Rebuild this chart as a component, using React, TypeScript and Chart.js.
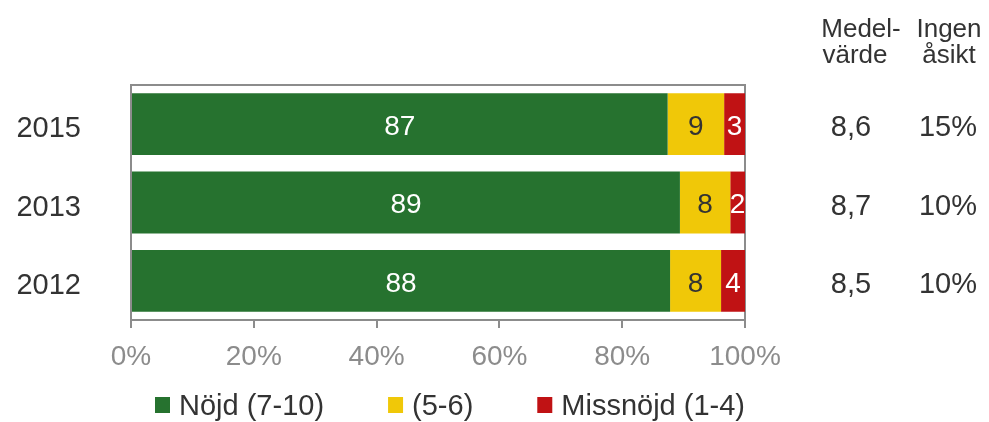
import React, { useEffect, useRef } from "react";
import { Chart, registerables } from "chart.js";

Chart.register(...registerables);

const years = ["2015", "2013", "2012"];
const seriesLabels = ["Nöjd (7-10)", "(5-6)", "Missnöjd (1-4)"];
const satisfied = [87.4, 89.4, 87.8];
const neutral = [9.2, 8.2, 8.3];
const dissatisfied = [3.4, 2.4, 3.9];
const meanValues = ["8,6", "8,7", "8,5"];
const noOpinion = ["15%", "10%", "10%"];
const xTicks = [0, 20, 40, 60, 80, 100];
const headerMean = ["Medel-", "värde"];
const headerNoOpinion = ["Ingen", "åsikt"];

const COLORS = ["#26722F", "#F0C808", "#C01214"];
const LABEL_COLORS = ["#FFFFFF", "#333333", "#FFFFFF"];
const FONT = "'Liberation Sans', Arial, sans-serif";
const TEXT = "#333333";
const AXIS = "#8C8C8C";

export default function App() {
  const ref = useRef<HTMLCanvasElement | null>(null);

  useEffect(() => {
    if (!ref.current) return;

    const framePlugin = {
      id: "frame",
      beforeDatasetsDraw(chart: any) {
        const { ctx, chartArea: a } = chart;
        ctx.save();
        ctx.strokeStyle = AXIS;
        ctx.lineWidth = 2;
        ctx.beginPath();
        ctx.moveTo(a.left, a.bottom);
        ctx.lineTo(a.left, a.top);
        ctx.lineTo(a.right, a.top);
        ctx.lineTo(a.right, a.bottom);
        ctx.stroke();
        ctx.restore();
      },
    };

    const valueLabels = {
      id: "valueLabels",
      afterDatasetsDraw(chart: any) {
        const { ctx } = chart;
        ctx.save();
        ctx.font = `28px ${FONT}`;
        ctx.textAlign = "center";
        ctx.textBaseline = "middle";
        chart.data.datasets.forEach((ds: any, di: number) => {
          const meta = chart.getDatasetMeta(di);
          meta.data.forEach((el: any, i: number) => {
            const v = ds.data[i];
            const cx = (el.x + el.base) / 2;
            ctx.fillStyle = LABEL_COLORS[di];
            ctx.fillText(String(Math.round(v)), cx, el.y + 3);
          });
        });
        ctx.restore();
      },
    };

    const sideColumns = {
      id: "sideColumns",
      afterDraw(chart: any) {
        const { ctx } = chart;
        const ys = chart.scales.y;
        ctx.save();
        ctx.fillStyle = TEXT;
        ctx.textAlign = "center";
        ctx.textBaseline = "alphabetic";
        ctx.font = `26px ${FONT}`;
        ctx.fillText(headerMean[0], 861, 37);
        ctx.fillText(headerMean[1], 855, 63);
        ctx.fillText(headerNoOpinion[0], 949, 37);
        ctx.fillText(headerNoOpinion[1], 949, 63);
        ctx.font = `29px ${FONT}`;
        ctx.textBaseline = "middle";
        years.forEach((_, i) => {
          const y = ys.getPixelForValue(i) + 4;
          ctx.fillText(meanValues[i], 851, y);
          ctx.fillText(noOpinion[i], 948, y);
        });
        ctx.restore();
      },
    };

    const customLegend = {
      id: "customLegend",
      afterDraw(chart: any) {
        const { ctx } = chart;
        ctx.save();
        ctx.font = `29px ${FONT}`;
        ctx.textBaseline = "middle";
        ctx.textAlign = "left";
        let x = 155;
        const cy = 405;
        chart.data.datasets.forEach((ds: any) => {
          ctx.fillStyle = ds.backgroundColor;
          ctx.fillRect(x, cy - 8, 15, 16);
          ctx.fillStyle = TEXT;
          const tx = x + 15 + 9;
          ctx.fillText(ds.label, tx, cy + 2);
          x = tx + ctx.measureText(ds.label).width + 64;
        });
        ctx.restore();
      },
    };

    const chart = new Chart(ref.current, {
      type: "bar",
      data: {
        labels: years,
        datasets: [satisfied, neutral, dissatisfied].map((d, i) => ({
          label: seriesLabels[i],
          data: d,
          backgroundColor: COLORS[i],
          borderWidth: 0,
          barPercentage: 0.79,
          categoryPercentage: 1,
        })),
      },
      options: {
        indexAxis: "y",
        responsive: false,
        animation: false,
        devicePixelRatio: 1,
        layout: { padding: { top: 85, right: 244, bottom: 0, left: 0 } },
        plugins: {
          legend: { display: false },
          tooltip: { enabled: false },
        },
        scales: {
          x: {
            stacked: true,
            min: 0,
            max: 100,
            afterBuildTicks: (s: any) => {
              s.ticks = xTicks.map((v) => ({ value: v }));
            },
            afterFit: (s: any) => {
              s.height = 102;
            },
            ticks: {
              callback: (v: any) => v + "%",
              color: AXIS,
              font: { family: FONT, size: 28 },
              padding: 12,
              maxRotation: 0,
            },
            grid: {
              drawOnChartArea: false,
              drawTicks: true,
              tickLength: 8,
              color: AXIS,
              lineWidth: 2,
            },
            border: { display: true, color: AXIS, width: 2 },
          },
          y: {
            stacked: true,
            afterFit: (s: any) => {
              s.width = 131;
            },
            ticks: {
              color: TEXT,
              font: { family: FONT, size: 29 },
              padding: 42,
              labelOffset: 5,
            },
            grid: { display: false },
            border: { display: false },
          },
        },
      },
      plugins: [framePlugin, valueLabels, sideColumns, customLegend],
    } as any);

    return () => chart.destroy();
  }, []);

  return (
    <div style={{ position: "fixed", left: 0, top: 0, width: 989, height: 422, background: "#fff" }}>
      <canvas ref={ref} width={989} height={422} style={{ display: "block" }} />
    </div>
  );
}
